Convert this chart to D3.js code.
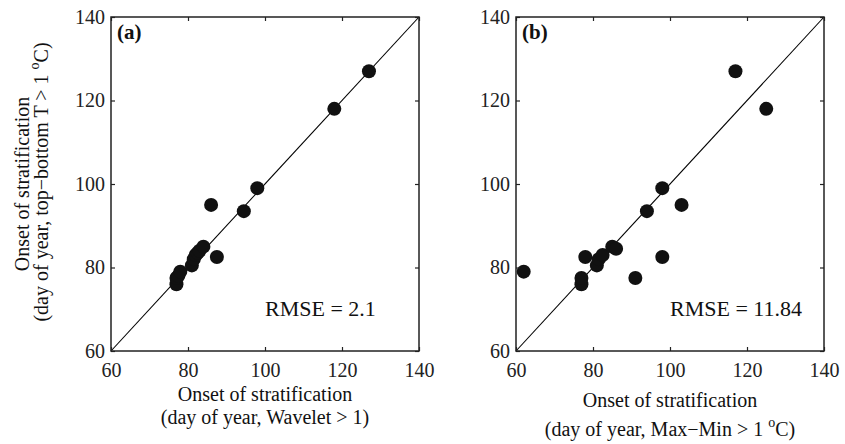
<!DOCTYPE html>
<html lang="en">
  <head>
    <meta charset="UTF-8" />
    <title>Onset of stratification</title>
    <script src="https://cdn.jsdelivr.net/npm/d3@7/dist/d3.min.js"></script>
    <style>
      body { margin: 0; background: #fff; }
      svg { display: block; font-family: "Liberation Serif", "Times New Roman", serif; }
    </style>
  </head>
  <body>
    <div id="main-div"></div>
    <script>
      // axis ticks, shared by both panels
      let ticks = [60, 80, 100, 120, 140];

      // panel (a): wavelet vs top-bottom
      let xA = [77, 77, 77.5, 78, 81, 81.5, 82, 82.5, 83, 84, 87.5, 86, 94.5, 98, 118, 127];
      let yA = [76, 77.5, 78, 79, 80.5, 82, 83, 83.5, 84, 85, 82.5, 95, 93.5, 99, 118, 127];

      // panel (b): max-min vs top-bottom
      let xB = [62, 77, 77, 78, 81, 81.5, 82.5, 85, 86, 91, 98, 94, 103, 98, 117, 125];
      let yB = [79, 76, 77.5, 82.5, 80.5, 82, 83, 85, 84.5, 77.5, 82.5, 93.5, 95, 99, 127, 118];

      let rmse = ["RMSE = 2.1", "RMSE = 11.84"];

      let svg = d3
        .select("#main-div")
        .append("svg")
        .attr("width", 845)
        .attr("height", 444);

      let plotTop = 17;
      let plotBottom = 351;
      let panelW = 308;

      function drawPanel(left, xs, ys, tag, rmseText, xLabel2) {
        let x = d3.scaleLinear().domain([60, 140]).range([left, left + panelW]);
        let y = d3.scaleLinear().domain([60, 140]).range([plotBottom, plotTop]);
        let g = svg.append("g");

        // 1:1 line
        g.append("line")
          .attr("x1", x(60)).attr("y1", y(60))
          .attr("x2", x(140)).attr("y2", y(140))
          .attr("stroke", "#000")
          .attr("stroke-width", 1.1);

        // points
        g.selectAll("circle")
          .data(xs.map((v, i) => [v, ys[i]]))
          .enter()
          .append("circle")
          .attr("cx", (d) => x(d[0]))
          .attr("cy", (d) => y(d[1]))
          .attr("r", 7)
          .attr("fill", "#111");

        // axes, ticks pointing inward
        g.append("g")
          .attr("transform", "translate(0," + plotBottom + ")")
          .call(d3.axisBottom(x).tickValues(ticks).tickSizeInner(-4).tickSizeOuter(0).tickPadding(12));
        g.append("g")
          .attr("transform", "translate(" + left + ",0)")
          .call(d3.axisLeft(y).tickValues(ticks).tickSizeInner(-4).tickSizeOuter(0).tickPadding(6));
        g.append("g")
          .attr("transform", "translate(0," + plotTop + ")")
          .call(d3.axisTop(x).tickValues(ticks).tickSizeInner(-4).tickSizeOuter(0).tickFormat(""));
        g.append("g")
          .attr("transform", "translate(" + (left + panelW) + ",0)")
          .call(d3.axisRight(y).tickValues(ticks).tickSizeInner(-4).tickSizeOuter(0).tickFormat(""));

        g.selectAll(".domain").remove();
        g.selectAll(".tick line").attr("stroke", "#222").attr("stroke-width", 1.2);
        g.selectAll(".tick text")
          .attr("font-family", "Liberation Serif, serif")
          .attr("font-size", 20)
          .attr("fill", "#222");

        // frame
        g.append("rect")
          .attr("x", left).attr("y", plotTop)
          .attr("width", panelW).attr("height", plotBottom - plotTop)
          .attr("fill", "none")
          .attr("stroke", "#222")
          .attr("stroke-width", 1.5);

        g.append("text")
          .attr("x", left + 6).attr("y", 39)
          .attr("font-size", 21)
          .attr("font-weight", "bold")
          .attr("fill", "#111")
          .text(tag);

        g.append("text")
          .attr("x", x(100)).attr("y", 316)
          .attr("font-size", 22)
          .attr("fill", "#111")
          .text(rmseText);

        // x label
        let cx = left + panelW / 2;
        g.append("text")
          .attr("x", cx).attr("y", xLabel2.sup ? 407 : 401)
          .attr("text-anchor", "middle")
          .attr("font-size", 20)
          .attr("fill", "#111")
          .text("Onset of stratification");
        let t2 = g.append("text")
          .attr("x", cx).attr("y", xLabel2.sup ? 436 : 424)
          .attr("text-anchor", "middle")
          .attr("font-size", 20)
          .attr("fill", "#111");
        t2.append("tspan").text(xLabel2.text);
        if (xLabel2.sup) {
          t2.append("tspan").attr("font-size", 14).attr("dy", -9).text("o");
          t2.append("tspan").attr("dy", 9).text("C)");
        }
        return g;
      }

      drawPanel(111, xA, yA, "(a)", rmse[0], { text: "(day of year, Wavelet > 1)", sup: false });
      drawPanel(516, xB, yB, "(b)", rmse[1], { text: "(day of year, Max\u2212Min > 1 ", sup: true });

      // y label (left panel only)
      let midY = (plotTop + plotBottom) / 2;
      svg.append("text")
        .attr("transform", "translate(29," + midY + ") rotate(-90)")
        .attr("text-anchor", "middle")
        .attr("font-size", 20)
        .attr("fill", "#111")
        .text("Onset of stratification");
      let yl2 = svg.append("text")
        .attr("transform", "translate(48," + (midY - 2) + ") rotate(-90)")
        .attr("text-anchor", "middle")
        .attr("font-size", 20)
        .attr("fill", "#111");
      yl2.append("tspan").text("(day of year, top\u2212bottom T > 1 ");
      yl2.append("tspan").attr("font-size", 14).attr("dy", -9).text("o");
      yl2.append("tspan").attr("dy", 9).text("C)");
    </script>
  </body>
</html>
